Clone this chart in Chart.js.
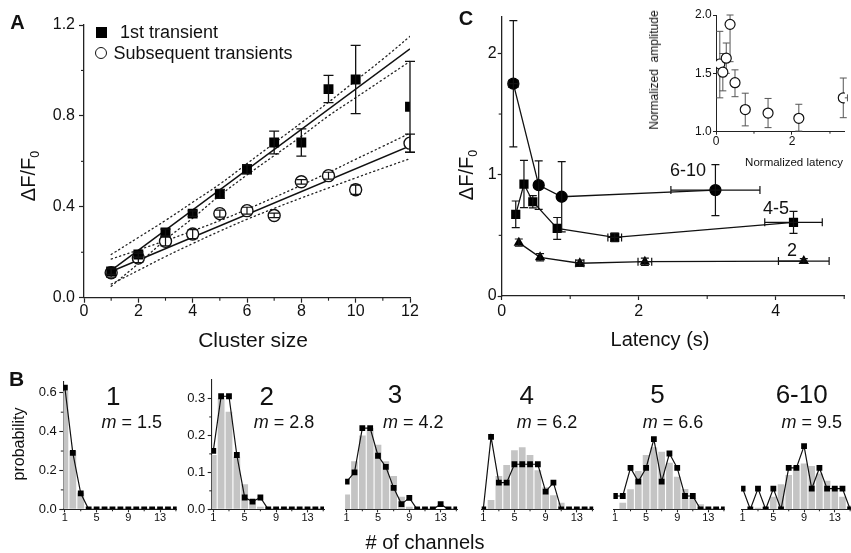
<!DOCTYPE html>
<html><head><meta charset="utf-8">
<script src="https://cdn.jsdelivr.net/npm/chart.js@4.4.1/dist/chart.umd.min.js"></script>
<style>
html,body{margin:0;padding:0;background:#fff;}
body{width:851px;height:553px;overflow:hidden;position:relative;font-family:"Liberation Sans",Arial,Helvetica,sans-serif;color:#111;}
.t{position:absolute;white-space:pre;line-height:1;}
.t sub{font-size:0.62em;vertical-align:-0.3em;line-height:0;}
.mk{position:absolute;box-sizing:border-box;}
</style></head><body>
<script>
// ================= DATA =================
// Panel A : amplitude vs cluster size
const clusterSize        = [1, 2, 3, 4, 5, 6, 7, 8, 9, 10, 12];
const firstTransient     = [0.115, 0.19, 0.287, 0.37, 0.457, 0.565, 0.683, 0.683, 0.918, 0.96, 0.84];
const firstTransientErr  = [0.012, 0.012, 0.015, 0.012, 0.02, 0.02, 0.05, 0.06, 0.06, 0.15, 0.2];
const subsequent         = [0.11, 0.175, 0.248, 0.28, 0.37, 0.383, 0.362, 0.51, 0.537, 0.475, 0.68];
const subsequentErr      = [0.02, 0.02, 0.02, 0.02, 0.015, 0.015, 0.01, 0.01, 0.015, 0.02, 0.04];
const fitEnds            = [1, 12];
const firstFit           = [0.12, 1.095];
const subsequentFit      = [0.115, 0.668];
const bandX              = [1, 2, 3, 4, 5, 6, 7, 8, 9, 10, 11, 12];
const firstUpper         = [0.19, 0.265, 0.34, 0.42, 0.50, 0.59, 0.68, 0.77, 0.86, 0.955, 1.05, 1.15];
const firstLower         = [0.05, 0.15, 0.255, 0.35, 0.45, 0.54, 0.625, 0.71, 0.80, 0.88, 0.96, 1.04];
const subsequentUpper    = [0.17, 0.21, 0.251, 0.294, 0.339, 0.389, 0.441, 0.495, 0.551, 0.609, 0.666, 0.724];
const subsequentLower    = [0.06, 0.12, 0.181, 0.238, 0.293, 0.345, 0.393, 0.439, 0.483, 0.527, 0.57, 0.612];
const aXTicks = [0, 2, 4, 6, 8, 10, 12];
const aXMinor = [1, 3, 5, 7, 9, 11];
const aYTicks = [0, 0.4, 0.8, 1.2];
const aYMinor = [0.2, 0.6, 1.0];

// Panel C : amplitude vs latency
const lat610     = [0.17, 0.54, 0.876, 3.12];
const amp610     = [1.75, 0.914, 0.818, 0.873];
const amp610Err  = [0.52, 0.2, 0.29, 0.21];
const lat610Err  = [0.07, 0, 0, 0.65];
const lat45      = [0.205, 0.325, 0.454, 0.81, 1.65, 4.26];
const amp45      = [0.673, 0.923, 0.777, 0.557, 0.483, 0.607];
const amp45Err   = [0.11, 0.195, 0.05, 0.09, 0.035, 0.09];
const lat45Err   = [0, 0, 0, 0, 0.1, 0.42];
const lat2       = [0.25, 0.56, 1.14, 2.09, 4.41];
const amp2       = [0.44, 0.319, 0.27, 0.283, 0.288];
const amp2Err    = [0.03, 0.03, 0.025, 0.03, 0.02];
const lat2Err    = [0, 0, 0.06, 0.1, 0.37];
const cXTicks = [0, 2, 4];
const cXMinor = [1, 3, 5];
const cYTicks = [0, 1, 2];
const cYMinor = [0.5, 1.5];

// Inset : normalized amplitude vs normalized latency
const normLat       = [0.1, 0.18, 0.27, 0.37, 0.5, 0.77, 1.37, 2.18, 3.35];
const normAmp       = [1.58, 1.51, 1.63, 1.92, 1.42, 1.19, 1.16, 1.115, 1.29];
const normAmpErrLo  = [0.29, 0.16, 0.13, 0.32, 0.12, 0.14, 0.125, 0.11, 0.17];
const normAmpErrHi  = [0.28, 0.16, 0.13, 0.08, 0.11, 0.14, 0.125, 0.12, 0.17];
const normLatErr    = [0, 0, 0, 0, 0, 0, 0, 0, 0.11];
const inXTicks = [0, 2];
const inXMinor = [1, 3];
const inYTicks = [1, 1.5, 2];

// Panel B : distributions of # of channels
const bChannels = [1, 2, 3, 4, 5, 6, 7, 8, 9, 10, 11, 12, 13, 14, 15];
const bXTicks = [1, 5, 9, 13];
const bXMinor = [3, 7, 11, 15];
const b1Line = [0.626, 0.291, 0.082, 0, 0, 0, 0, 0, 0, 0, 0, 0, 0, 0, 0];
const b1Bars = [0.61, 0.30, 0.085, 0, 0, 0, 0, 0, 0, 0, 0, 0, 0, 0, 0];
const b2Line = [0.158, 0.306, 0.306, 0.147, 0.032, 0.021, 0.032, 0, 0, 0, 0, 0, 0, 0, 0];
const b2Bars = [0.147, 0.30, 0.264, 0.142, 0.068, 0.025, 0.007, 0, 0, 0, 0, 0, 0, 0, 0];
const b3Line = [0.075, 0.10, 0.22, 0.22, 0.145, 0.115, 0.058, 0.014, 0.031, 0, 0, 0, 0.014, 0, 0];
const b3Bars = [0.04, 0.13, 0.20, 0.22, 0.175, 0.13, 0.09, 0.034, 0.007, 0, 0, 0, 0, 0, 0];
const b4Line = [0, 0.196, 0.072, 0.072, 0.122, 0.122, 0.122, 0.122, 0.048, 0.072, 0, 0, 0, 0, 0];
const b4Bars = [0, 0.025, 0.09, 0.12, 0.16, 0.168, 0.147, 0.106, 0.06, 0.038, 0.018, 0, 0, 0, 0];
const b5Line = [0.036, 0.036, 0.112, 0.075, 0.112, 0.19, 0.075, 0.151, 0.112, 0.036, 0.036, 0, 0, 0, 0];
const b5Bars = [0, 0.018, 0.054, 0.104, 0.147, 0.168, 0.156, 0.126, 0.088, 0.055, 0.03, 0.014, 0, 0, 0];
const b6Line = [0.056, 0, 0.056, 0, 0.056, 0, 0.112, 0.112, 0.171, 0.056, 0.112, 0.056, 0.056, 0.056, 0];
const b6Bars = [0, 0, 0.004, 0.006, 0.034, 0.068, 0.093, 0.117, 0.124, 0.117, 0.097, 0.077, 0.061, 0.034, 0.01];
const b1YTicks = [0, 0.2, 0.4, 0.6];
const b1YMinor = [0.1, 0.3, 0.5];
const b2YTicks = [0, 0.1, 0.2, 0.3];
const b2YMinor = [0.05, 0.15, 0.25];

// ================= SETUP =================
const AX = '#222';
Chart.defaults.font.family = '"Liberation Sans", Arial, Helvetica, sans-serif';
Chart.defaults.color = '#111';
Chart.defaults.animation = false;
Chart.defaults.events = [];
Chart.defaults.plugins.legend.display = false;
Chart.defaults.plugins.tooltip.enabled = false;

function drawErr(chart) {
  const ctx = chart.ctx, xs = chart.scales.x, ys = chart.scales.y;
  chart.data.datasets.forEach(ds => {
    if (!ds.errY && !ds.errX) return;
    ctx.save();
    ctx.strokeStyle = ds.errColor || '#111';
    ctx.lineWidth = ds.errWidth || 1.2;
    const c = ds.cap || 4;
    ds.data.forEach((p, j) => {
      const px = xs.getPixelForValue(p.x), py = ys.getPixelForValue(p.y);
      const lo = ds.errY ? ds.errY[j] : 0;
      const hi = ds.errYHi ? ds.errYHi[j] : lo;
      ctx.beginPath();
      if (lo || hi) {
        const y1 = ys.getPixelForValue(p.y + hi), y2 = ys.getPixelForValue(p.y - lo);
        ctx.moveTo(px, y1); ctx.lineTo(px, y2);
        ctx.moveTo(px - c, y1); ctx.lineTo(px + c, y1);
        ctx.moveTo(px - c, y2); ctx.lineTo(px + c, y2);
      }
      const ex = ds.errX ? ds.errX[j] : 0;
      if (ex) {
        const x1 = xs.getPixelForValue(p.x - ex), x2 = xs.getPixelForValue(p.x + ex);
        ctx.moveTo(x1, py); ctx.lineTo(x2, py);
        ctx.moveTo(x1, py - c); ctx.lineTo(x1, py + c);
        ctx.moveTo(x2, py - c); ctx.lineTo(x2, py + c);
      }
      ctx.stroke();
    });
    ctx.restore();
  });
}
const errPlugin = {
  id: 'errbars',
  beforeDatasetsDraw(chart, a, o) { if (o && o.before) drawErr(chart); },
  afterDatasetsDraw(chart, a, o) { if (!(o && o.before)) drawErr(chart); }
};
const minorPlugin = {
  id: 'minorTicks',
  afterDraw(chart, a, o) {
    if (!o || !o.list) return;
    const ctx = chart.ctx, ca = chart.chartArea;
    ctx.save();
    ctx.strokeStyle = AX; ctx.lineWidth = o.width || 1.1;
    o.list.forEach(m => {
      const s = chart.scales[m.axis];
      m.values.forEach(v => {
        const p = s.getPixelForValue(v);
        ctx.beginPath();
        if (s.isHorizontal()) { ctx.moveTo(p, ca.bottom); ctx.lineTo(p, ca.bottom + m.len); }
        else { ctx.moveTo(ca.left, p); ctx.lineTo(ca.left - m.len, p); }
        ctx.stroke();
      });
    });
    ctx.restore();
  }
};
Chart.register(errPlugin, minorPlugin);

function mkCanvas(left, top, w, h) {
  const c = document.createElement('canvas');
  c.width = w; c.height = h;
  c.style.cssText = `position:absolute;left:${left}px;top:${top}px;width:${w}px;height:${h}px`;
  document.body.appendChild(c);
  return c;
}
function scaleCfg(o) {
  return {
    type: 'linear', min: o.min, max: o.max, offset: false,
    afterBuildTicks: s => { s.ticks = o.ticks.map(v => ({ value: v })); },
    afterFit: s => { if (s.isHorizontal()) s.height = o.size; else s.width = o.size; },
    grid: { offset: false, drawOnChartArea: false, drawTicks: true, tickLength: o.tl, tickColor: AX, tickWidth: o.bw || 1.2 },
    border: { display: true, color: AX, width: o.bw || 1.3 },
    ticks: { autoSkip: false, maxRotation: 0, minRotation: 0, padding: o.pad, color: '#111',
             font: { size: o.fs, lineHeight: 1 }, callback: o.fmt || (v => String(v)) }
  };
}
const pts = (xs, ys) => xs.map((x, i) => ({ x: x, y: ys[i] }));

function label(html, cx, cy, size, opt) {
  opt = opt || {};
  const d = document.createElement('div');
  d.className = 't';
  d.innerHTML = html;
  d.style.left = cx + 'px'; d.style.top = cy + 'px';
  d.style.fontSize = size + 'px';
  if (opt.bold) d.style.fontWeight = 'bold';
  d.style.transform = 'translate(-50%,-50%)' + (opt.rot ? ` rotate(${opt.rot}deg)` : '');
  document.body.appendChild(d);
}

// ================= PANEL A =================
const dotted = { showLine: true, borderDash: [1.2, 3.2], borderWidth: 1.3, borderColor: '#222', pointRadius: 0, tension: 0.4, borderCapStyle: 'round' };
new Chart(mkCanvas(0, 0, 420, 355), {
  type: 'scatter',
  data: { datasets: [
    { data: pts(clusterSize, firstTransient), pointStyle: 'rect', pointRadius: 7, pointBackgroundColor: '#000', pointBorderColor: '#000', pointBorderWidth: 0,
      errY: firstTransientErr, cap: 5, errWidth: 1.3 },
    { data: pts(clusterSize, subsequent), pointStyle: 'circle', pointRadius: 6, pointBackgroundColor: '#fff', pointBorderColor: '#111', pointBorderWidth: 1.4,
      errY: subsequentErr, cap: 5, errWidth: 1.2 },
    { data: pts(fitEnds, firstFit), showLine: true, borderColor: '#111', borderWidth: 1.5, pointRadius: 0 },
    { data: pts(fitEnds, subsequentFit), showLine: true, borderColor: '#111', borderWidth: 1.5, pointRadius: 0 },
    Object.assign({ data: pts(bandX, firstUpper) }, dotted),
    Object.assign({ data: pts(bandX, firstLower) }, dotted),
    Object.assign({ data: pts(bandX, subsequentUpper) }, dotted),
    Object.assign({ data: pts(bandX, subsequentLower) }, dotted)
  ]},
  options: {
    responsive: false, devicePixelRatio: 1,
    layout: { padding: { left: 0, top: 25, right: 10, bottom: 0 } },
    scales: {
      x: scaleCfg({ min: 0, max: 12, ticks: aXTicks, size: 57.3, tl: 5, pad: 1, fs: 16 }),
      y: scaleCfg({ min: 0, max: 1.2, ticks: aYTicks, size: 84, tl: 5, pad: 4, fs: 16, fmt: v => v.toFixed(1) })
    },
    plugins: { errbars: {}, minorTicks: { list: [ { axis: 'x', values: aXMinor, len: 3 }, { axis: 'y', values: aYMinor, len: 3 } ] } }
  }
});

// ================= PANEL C =================
new Chart(mkCanvas(420, 0, 431, 355), {
  type: 'scatter',
  data: { datasets: [
    { data: pts(lat610, amp610), showLine: true, borderColor: '#111', borderWidth: 1.3, pointStyle: 'circle', pointRadius: 5.5,
      pointBackgroundColor: '#000', pointBorderColor: '#000', errY: amp610Err, errX: lat610Err, cap: 4, errWidth: 1.2 },
    { data: pts(lat45, amp45), showLine: true, borderColor: '#111', borderWidth: 1.3, pointStyle: 'rect', pointRadius: 6.5,
      pointBackgroundColor: '#000', pointBorderColor: '#000', pointBorderWidth: 0, errY: amp45Err, errX: lat45Err, cap: 4, errWidth: 1.2 },
    { data: pts(lat2, amp2), showLine: true, borderColor: '#111', borderWidth: 1.3, pointStyle: 'triangle', pointRadius: 6,
      pointBackgroundColor: '#000', pointBorderColor: '#000', pointBorderWidth: 0, errY: amp2Err, errX: lat2Err, cap: 4, errWidth: 1.2 }
  ]},
  options: {
    responsive: false, devicePixelRatio: 1,
    layout: { padding: { left: 0, top: 17, right: 1.3, bottom: 0 } },
    scales: {
      x: scaleCfg({ min: 0, max: 5, ticks: cXTicks, size: 59, tl: 4, pad: 3.5, fs: 16 }),
      y: scaleCfg({ min: 0, max: 2.3, ticks: cYTicks, size: 81.7, tl: 4, pad: 1, fs: 16 })
    },
    plugins: { errbars: {}, minorTicks: { list: [ { axis: 'x', values: cXMinor, len: 3 }, { axis: 'y', values: cYMinor, len: 3 } ] } }
  }
});

// ================= INSET =================
new Chart(mkCanvas(620, 0, 231, 175), {
  type: 'scatter',
  data: { datasets: [
    { data: pts(normLat, normAmp), pointStyle: 'circle', pointRadius: 5, pointBackgroundColor: '#fff', pointBorderColor: '#111', pointBorderWidth: 1.2,
      errY: normAmpErrLo, errYHi: normAmpErrHi, errX: normLatErr, cap: 3.5, errWidth: 1, errColor: '#555' }
  ]},
  options: {
    responsive: false, devicePixelRatio: 1,
    layout: { padding: { left: 0, top: 15, right: 0, bottom: 0 } },
    scales: {
      x: scaleCfg({ min: 0, max: 3.39, ticks: inXTicks, size: 43.3, tl: 3, pad: 1.3, fs: 12, bw: 1 }),
      y: scaleCfg({ min: 1, max: 2, ticks: inYTicks, size: 96, tl: 3, pad: 1.3, fs: 12, bw: 1, fmt: v => v.toFixed(1) })
    },
    plugins: { errbars: { before: true }, minorTicks: { width: 1, list: [ { axis: 'x', values: inXMinor, len: 2 } ] } }
  }
});

// ================= PANEL B =================
function makeB(cl, cw, al, ar, lineVals, barVals, yAx, topPad, ymax) {
  new Chart(mkCanvas(cl, 370, cw, 183), {
    type: 'bar',
    data: { datasets: [
      { type: 'line', data: pts(bChannels, lineVals), borderColor: '#111', borderWidth: 1.2, pointStyle: 'rect', pointRadius: 4.1,
        pointBackgroundColor: '#000', pointBorderColor: '#000', pointBorderWidth: 0, order: 0, tension: 0 },
      { type: 'bar', data: pts(bChannels, barVals), backgroundColor: '#c4c4c4', borderWidth: 0, inflateAmount: 0,
        barPercentage: 0.86, categoryPercentage: 1, order: 1, clip: 0 }
    ]},
    options: {
      responsive: false, devicePixelRatio: 1,
      layout: { padding: { left: yAx ? 0 : al - cl, top: topPad, right: cw - (ar - cl), bottom: 0 } },
      scales: {
        x: scaleCfg({ min: 0.8, max: 15.1, ticks: bXTicks, size: 43.7, tl: 3, pad: 0, fs: 11, bw: 1.1 }),
        y: yAx ? scaleCfg({ min: 0, max: ymax, ticks: yAx.ticks, size: al - cl, tl: 4, pad: 2.5, fs: 13, bw: 1.1, fmt: v => v.toFixed(1) })
               : { type: 'linear', display: false, min: 0, max: ymax }
      },
      plugins: { minorTicks: { width: 1, list: [ { axis: 'x', values: bXMinor, len: 2 } ].concat(yAx ? [ { axis: 'y', values: yAx.minor, len: 2.5 } ] : []) } }
    }
  });
}
makeB(22, 160, 63.3, 176.7, b1Line, b1Bars, { ticks: b1YTicks, minor: b1YMinor }, 11.7, 0.657);
makeB(182, 148, 211.7, 324, b2Line, b2Bars, { ticks: b2YTicks, minor: b2YMinor }, 10, 0.35);
makeB(335, 130, 345.1, 457.1, b3Line, b3Bars, null, 10, 0.35);
makeB(472, 130, 481.7, 593.2, b4Line, b4Bars, null, 10, 0.35);
makeB(603, 130, 613.4, 724.7, b5Line, b5Bars, null, 10, 0.35);
makeB(731, 124, 741.1, 853.1, b6Line, b6Bars, null, 10, 0.35);

// ================= TEXT =================
label('A', 17.5, 21.5, 20, { bold: true });
label('B', 16.7, 377.5, 21, { bold: true });
label('C', 466, 18, 20, { bold: true });
(function () {
  const s = document.createElement('div'); s.className = 'mk';
  s.style.cssText += 'left:95.5px;top:26.5px;width:11px;height:11px;background:#000;';
  document.body.appendChild(s);
  const c = document.createElement('div'); c.className = 'mk';
  c.style.cssText += 'left:95px;top:47px;width:12px;height:12px;border:1.4px solid #111;border-radius:50%;background:#fff;';
  document.body.appendChild(c);
})();
label('1st transient', 169, 32, 18);
label('Subsequent transients', 203, 53, 18);
label('&Delta;F/F<sub>0</sub>', 28, 176, 20, { rot: -90 });
label('Cluster size', 253, 339, 21);
label('&Delta;F/F<sub>0</sub>', 466, 175, 20, { rot: -90 });
label('Latency (s)', 660, 339, 20);
label('6-10', 688, 170, 18);
label('4-5', 776, 208, 18);
label('2', 792, 250, 18);
label('Normalized  amplitude', 654, 70, 12, { rot: -90 });
label('Normalized latency', 794, 163, 11.5);
label('1', 113.3, 396, 26);
label('<i>m</i> = 1.5', 131.7, 421.7, 18);
label('2', 266.7, 396, 26);
label('<i>m</i> = 2.8', 284, 421.7, 18);
label('3', 395, 394, 26);
label('<i>m</i> = 4.2', 413.3, 421.7, 18);
label('4', 526.7, 395, 26);
label('<i>m</i> = 6.2', 547, 421.7, 18);
label('5', 657.5, 394, 26);
label('<i>m</i> = 6.6', 673, 421.5, 18);
label('6-10', 801.7, 394, 26);
label('<i>m</i> = 9.5', 811.7, 421.5, 18);
label('probability', 19, 444, 16, { rot: -90 });
label('# of channels', 425, 541.7, 20);
</script>
</body></html>
